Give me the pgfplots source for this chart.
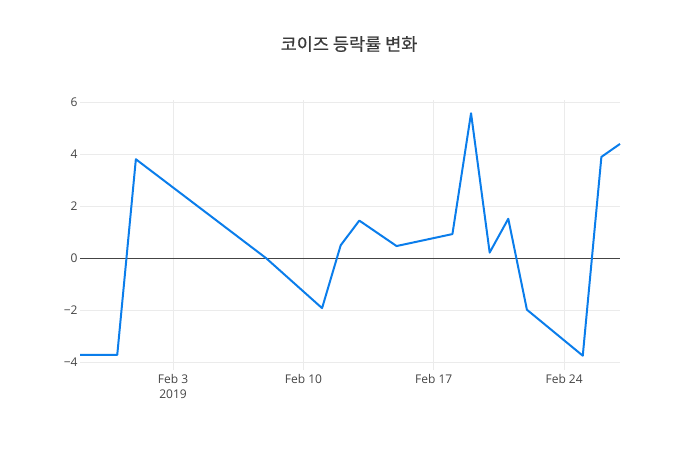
\documentclass[border=0pt]{standalone}
\usepackage{pgfplots}
\pgfplotsset{compat=1.18}
\usepackage{fontspec}
\setmainfont{Open Sans}
\newfontfamily\cjk{Noto Sans CJK KR}[FakeBold=0.6]
\definecolor{linecol}{RGB}{10,125,235}
\definecolor{gridcol}{RGB}{235,235,235}
\definecolor{labcol}{RGB}{68,68,68}
\begin{document}
\begin{tikzpicture}[x=1bp,y=1bp]
\path[use as bounding box] (-80,-80) rectangle (620,370);
\begin{axis}[
  at={(0,0)}, anchor=south west,
  scale only axis,
  width=540bp, height=270bp,
  xmin=0, xmax=29,
  ymin=-4.3, ymax=6.09,
  axis line style={draw=none},
  tick style={draw=none},
  grid=major,
  major grid style={gridcol, line width=0.8pt},
  xtick={5,12,19,26},
  xticklabels={{Feb 3\\2019},Feb 10,Feb 17,Feb 24},
  xticklabel style={align=center, font=\fontsize{12bp}{15bp}\selectfont, text=labcol, yshift=-1bp},
  ytick={-4,-2,0,2,4,6},
  yticklabels={\textminus4,\textminus2,0,2,4,6},
  yticklabel style={font=\fontsize{12bp}{14bp}\selectfont, text=labcol, xshift=1bp},
  /pgf/number format/assume math mode=true,
  clip=false,
]
\addplot[labcol, line width=0.9pt, forget plot] coordinates {(0,0) (29,0)};
\addplot[linecol, line width=2pt, line join=round] coordinates {
(0,-3.72) (2,-3.72) (3,3.81) (10,0.0) (13,-1.92) (14,0.50) (15,1.45)
(17,0.47) (20,0.93) (21,5.58) (22,0.22) (23,1.52) (24,-1.98)
(27,-3.75) (28,3.90) (29,4.40)
};
\end{axis}
\node[font=\cjk\fontsize{17.5bp}{20bp}\selectfont, text=labcol!85!black] at (269,326) {코이즈 등락률 변화};
\end{tikzpicture}
\end{document}
